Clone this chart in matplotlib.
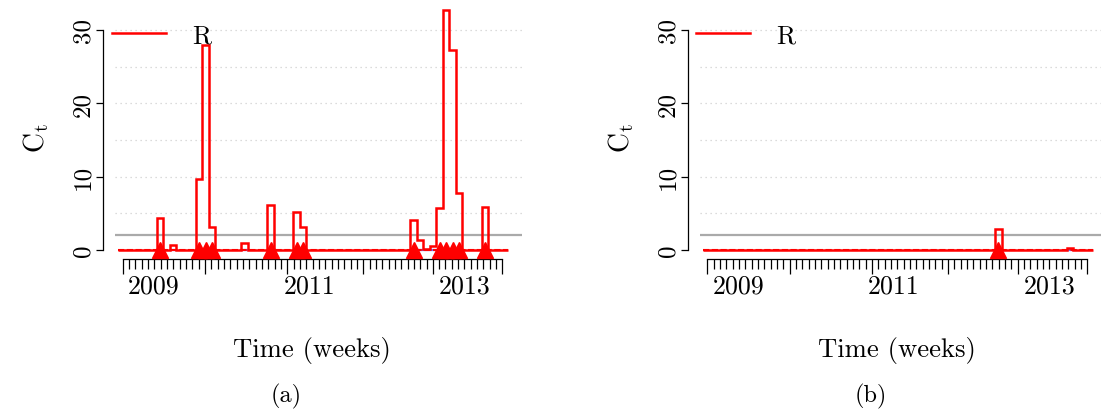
import matplotlib.pyplot as plt
import matplotlib.transforms as mtransforms
from matplotlib.lines import Line2D
import numpy as np

plt.rcParams['font.family'] = ['cmr10', 'DejaVu Serif']
plt.rcParams['mathtext.fontset'] = 'cm'
plt.rcParams['axes.formatter.use_mathtext'] = True

# CUSUM statistic C_t per time point
ct_a = [0, 0, 0, 0, 0, 0, 4.4, 0, 0.7, 0,
        0, 0, 9.7, 28.0, 3.1, 0, 0, 0, 0, 1.0,
        0, 0, 0, 6.2, 0, 0, 0, 5.2, 3.1, 0,
        0, 0, 0, 0, 0, 0, 0, 0, 0, 0,
        0, 0, 0, 0, 0, 4.1, 1.4, 0.2, 0.5, 5.7,
        32.7, 27.3, 7.8, 0, 0, 0, 5.9, 0, 0, 0]
ct_b = [0] * 45 + [2.9] + [0] * 10 + [0.3] + [0] * 3
alarms_a = [6, 12, 13, 14, 23, 27, 28, 45, 49, 50, 51, 52, 56]
alarms_b = [45]
threshold = 2
year_labels = ['2009', '2011', '2013']
year_pos = [5.0, 28.9, 52.9]
yticks = [0, 10, 20, 30]
panel_tags = ['(a)', '(b)']

W, H = 1101, 410
fig = plt.figure(figsize=(W / 100, H / 100), dpi=100)

# tick marks of the time axis (61 marks, long ones at year changes)
tick_pos = np.linspace(0.223, 58.65, 61)
long_idx = [0, 13, 26, 38, 49, 60]
RED = '#ff0000'


def draw_panel(left_px, right_px, ct, alarms, tag):
    ax = fig.add_axes([left_px / W, (H - 260) / H, (right_px - left_px) / W, 240 / H])
    ct = np.asarray(ct, dtype=float)
    n = len(ct)
    edges = np.arange(n + 1) - 0.5
    ax.set_xlim(-0.96, -0.96 + (right_px - left_px) / 6.5)
    ax.set_ylim(-1.23, 31.5)

    for g in range(5, 31, 5):
        ax.axhline(g, color='#d0d0d0', lw=0.9, ls=(0, (1, 3)), zorder=0)
    ax.axhline(threshold, color='#aaaaaa', lw=1.6, zorder=1)

    # small blue segments under low bumps
    low = (ct > 0) & (ct < threshold)
    for i in np.where(low)[0]:
        ax.hlines(0, edges[i], edges[i + 1], color='#7070ff', lw=1.6, zorder=2)
    ax.hlines(0, edges[0], edges[-1], color=RED, lw=1.5, ls=(0, (3, 1.2)), zorder=3)
    ax.stairs(ct, edges, baseline=None, color=RED, lw=1.8, zorder=4, clip_on=False)
    ax.plot(alarms, np.zeros(len(alarms)), ls='none', marker='^', ms=11.5,
            color=RED, mec=RED, clip_on=False, zorder=5)

    for s in ['top', 'right']:
        ax.spines[s].set_visible(False)
    ax.spines['left'].set_position(('outward', 8.6))
    ax.spines['left'].set_bounds(0, 30)
    ax.spines['bottom'].set_bounds(tick_pos[0], tick_pos[-1])
    for s in ['left', 'bottom']:
        ax.spines[s].set_linewidth(0.9)

    ax.set_yticks(yticks)
    ax.set_yticklabels([str(v) for v in yticks], rotation=90, va='center')
    ax.tick_params(axis='y', length=5, width=0.9, labelsize=18, pad=1)

    ax.set_xticks(tick_pos[long_idx])
    ax.set_xticks(tick_pos, minor=True)
    ax.set_xticklabels([])
    ax.tick_params(axis='x', which='major', length=10.8, width=0.9)
    ax.tick_params(axis='x', which='minor', length=7.2, width=0.9)

    tr = mtransforms.blended_transform_factory(ax.transData, fig.transFigure)
    for p, lab in zip(year_pos, year_labels):
        ax.text(p, (H - 287) / H, lab, transform=tr, ha='center', va='center', fontsize=18.7)

    off = left_px - 115
    fig.text((312 + off) / W, (H - 351) / H, 'Time (weeks)', ha='center', va='center', fontsize=19.2)
    fig.text((286 + off) / W, (H - 396) / H, tag, ha='center', va='center', fontsize=17.5)
    fig.text((36 + off) / W, (H - 138) / H, r'$\mathrm{C}_\mathrm{t}$', rotation=90,
             ha='center', va='center', fontsize=20)

    h = Line2D([], [], color=RED, lw=1.8)
    ax.legend([h], ['R'], loc='center left', frameon=False, fontsize=18.7,
              handlelength=2.08, handletextpad=1.0, borderpad=0, borderaxespad=0,
              bbox_to_anchor=((111.7 + off) / W, (H - 36.7) / H),
              bbox_transform=fig.transFigure)
    return ax


draw_panel(115, 522, ct_a, alarms_a, panel_tags[0])
draw_panel(699.7, 1101, ct_b, alarms_b, panel_tags[1])

fig.savefig('out.png', dpi=100)
